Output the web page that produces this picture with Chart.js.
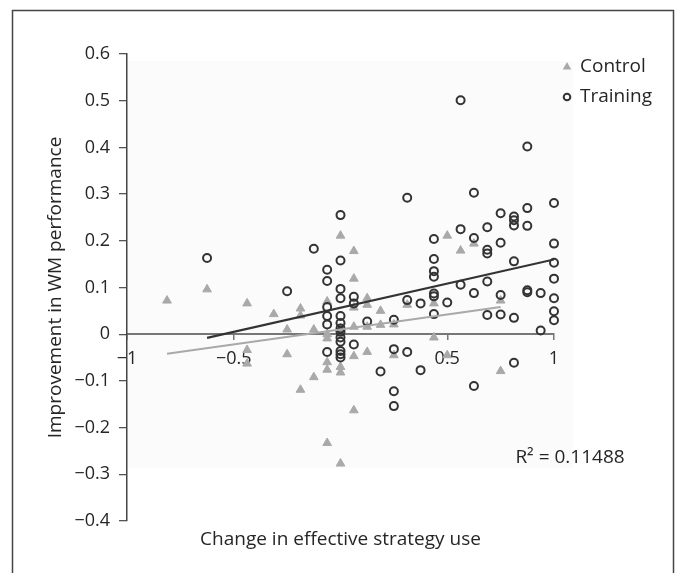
<!DOCTYPE html>
<html>
<head>
<meta charset="utf-8">
<script src="https://cdn.jsdelivr.net/npm/chart.js@4.4.1/dist/chart.umd.min.js"></script>
<style>
  html, body { margin: 0; padding: 0; background: #fff; }
  canvas { display: block; }
</style>
</head>
<body>
<canvas id="scatterChart" width="678" height="573"></canvas>
<script>
// 데이터: 통제군 (삼각형)
const controlX = [-0.8125, -0.625, -0.4375, -0.4375, -0.4375, -0.3125, -0.25, -0.25,
    -0.1875, -0.1875, -0.1875, -0.125, -0.125,
    -0.0625, -0.0625, -0.0625, -0.0625, -0.0625, -0.0625,
    0, 0, 0, 0, 0,
    0.0625, 0.0625, 0.0625, 0.0625, 0.0625, 0.0625,
    0.125, 0.125, 0.125, 0.125, 0.1875, 0.1875, 0.25, 0.25,
    0.3125, 0.4375, 0.4375, 0.5, 0.5, 0.5625, 0.625, 0.75, 0.75];
const controlY = [0.072, 0.096, 0.066, -0.034, -0.063, 0.043, 0.010, -0.043,
    0.055, 0.040, -0.119, 0.010, -0.092,
    0.070, 0.000, -0.009, -0.060, -0.076, -0.233,
    0.211, 0.012, -0.070, -0.082, -0.277,
    0.178, 0.119, 0.057, 0.016, -0.047, -0.163,
    0.077, 0.063, 0.016, -0.038, 0.050, 0.020, 0.021, -0.045,
    0.063, 0.066, -0.007, 0.211, -0.045, 0.179, 0.194, 0.072, -0.079];

// 데이터: 훈련군 (원)
const trainingX = [-0.625, -0.25, -0.125,
    -0.0625, -0.0625, -0.0625, -0.0625, -0.0625, -0.0625,
    0, 0, 0, 0, 0, 0, 0, 0, 0, 0, 0, 0, 0,
    0.0625, 0.0625, 0.0625, 0.125, 0.1875,
    0.25, 0.25, 0.25, 0.25, 0.3125, 0.3125, 0.3125, 0.375, 0.375,
    0.4375, 0.4375, 0.4375, 0.4375, 0.4375, 0.4375, 0.4375, 0.5,
    0.5625, 0.5625, 0.5625, 0.625, 0.625, 0.625, 0.625,
    0.6875, 0.6875, 0.6875, 0.6875, 0.6875, 0.75, 0.75, 0.75, 0.75,
    0.8125, 0.8125, 0.8125, 0.8125, 0.8125, 0.8125,
    0.875, 0.875, 0.875, 0.875, 0.875, 0.9375, 0.9375,
    1, 1, 1, 1, 1, 1, 1];
const trainingY = [0.163, 0.092, 0.183,
    0.138, 0.114, 0.058, 0.039, 0.021, -0.038,
    0.255, 0.158, 0.097, 0.077, 0.039, 0.024, 0.012, 0.005, -0.007, -0.016, -0.036, -0.043, -0.050,
    0.080, 0.066, -0.022, 0.027, -0.080,
    0.031, -0.032, -0.122, -0.154, 0.292, 0.073, -0.038, 0.066, -0.077,
    0.204, 0.161, 0.135, 0.123, 0.087, 0.081, 0.043, 0.068,
    0.501, 0.225, 0.106, 0.303, 0.206, 0.088, -0.111,
    0.229, 0.181, 0.173, 0.113, 0.041, 0.259, 0.196, 0.084, 0.042,
    0.252, 0.244, 0.233, 0.156, 0.035, -0.061,
    0.402, 0.270, 0.232, 0.094, 0.090, 0.088, 0.008,
    0.281, 0.194, 0.153, 0.119, 0.077, 0.049, 0.030];

// 회귀선 끝점
const trainingFitX = [-0.625, 1];
const trainingFitY = [-0.008, 0.160];
const controlFitX = [-0.8125, 0.75];
const controlFitY = [-0.042, 0.058];

// 축 눈금
const xTicks = [-1, -0.5, 0.5, 1];
const yMin = -0.4;
const yMax = 0.6;

const legendLabels = ['Control', 'Training'];
const xTitle = 'Change in effective strategy use';
const yTitle = 'Improvement in WM performance';
const r2Text = 'R\u00B2 = 0.11488';

const TEXT = '#262626';
const DARK = '#333333';
const LIGHT = '#a9a9a9';

const toPoints = (xs, ys) => xs.map((x, i) => ({ x: x, y: ys[i] }));
const minus = s => s.replace('-', '\u2212');

Chart.defaults.font.family = "'Open Sans', sans-serif";
Chart.defaults.font.size = 18;
Chart.defaults.color = TEXT;

// 배경, 테두리, 범례, 텍스트
const decorPlugin = {
    id: 'decor',
    beforeDraw(chart) {
        const { ctx, chartArea: a } = chart;
        ctx.save();
        ctx.fillStyle = '#ffffff';
        ctx.fillRect(0, 0, chart.width, chart.height);
        ctx.fillStyle = '#fbfbfb';
        ctx.fillRect(a.left, a.top + 7, a.right - a.left + 19, a.bottom - a.top - 60);
        ctx.strokeStyle = '#444';
        ctx.lineWidth = 1.5;
        ctx.strokeRect(12.5, 10.5, 661, 620);
        ctx.restore();
    },
    afterDraw(chart) {
        const { ctx, chartArea: a } = chart;
        ctx.save();
        ctx.font = "19px 'Open Sans', sans-serif";
        ctx.fillStyle = TEXT;
        ctx.textBaseline = 'middle';

        // x축 제목
        ctx.textAlign = 'center';
        ctx.fillText(xTitle, (a.left + a.right) / 2, a.bottom + 19);

        // R²
        ctx.fillText(r2Text, a.right + 16, a.bottom - 63);

        // 범례
        const lx = a.right + 13;
        ctx.textAlign = 'left';
        ctx.fillStyle = LIGHT;
        ctx.beginPath();
        ctx.moveTo(lx, 67 - 5);
        ctx.lineTo(lx + 4.3, 67 + 2.5);
        ctx.lineTo(lx - 4.3, 67 + 2.5);
        ctx.closePath();
        ctx.fill();
        ctx.strokeStyle = DARK;
        ctx.lineWidth = 2;
        ctx.beginPath();
        ctx.arc(lx, 97, 3.3, 0, Math.PI * 2);
        ctx.stroke();
        ctx.fillStyle = TEXT;
        ctx.fillText(legendLabels[0], lx + 13, 67);
        ctx.fillText(legendLabels[1], lx + 13, 97);
        ctx.restore();
    }
};

const chart = new Chart(document.getElementById('scatterChart'), {
    type: 'scatter',
    data: {
        datasets: [
            {
                type: 'line',
                label: 'Training fit',
                data: toPoints(trainingFitX, trainingFitY),
                borderColor: DARK,
                borderWidth: 2.2,
                pointRadius: 0,
                fill: false,
                order: 0
            },
            {
                type: 'line',
                label: 'Control fit',
                data: toPoints(controlFitX, controlFitY),
                borderColor: LIGHT,
                borderWidth: 2,
                pointRadius: 0,
                fill: false,
                order: 1
            },
            {
                label: legendLabels[1],
                data: toPoints(trainingX, trainingY),
                pointStyle: 'circle',
                pointRadius: 4,
                borderColor: DARK,
                borderWidth: 2,
                backgroundColor: 'rgba(0,0,0,0)',
                clip: false,
                order: 2
            },
            {
                label: legendLabels[0],
                data: toPoints(controlX, controlY),
                pointStyle: 'triangle',
                pointRadius: 5,
                borderColor: LIGHT,
                borderWidth: 1,
                backgroundColor: LIGHT,
                clip: false,
                order: 3
            }
        ]
    },
    options: {
        responsive: false,
        animation: false,
        events: [],
        layout: {
            padding: { left: 20, right: 124, top: 54, bottom: 52 }
        },
        plugins: {
            legend: { display: false },
            tooltip: { enabled: false }
        },
        scales: {
            x: {
                type: 'linear',
                min: -1,
                max: 1,
                position: { y: 0 },
                afterFit: s => { s.height = 0; },
                afterBuildTicks: s => { s.ticks = xTicks.map(v => ({ value: v })); },
                grid: {
                    drawOnChartArea: false,
                    drawTicks: true,
                    tickLength: 5,
                    color: '#777',
                    lineWidth: 1.5
                },
                border: { color: '#777', width: 2 },
                ticks: {
                    padding: 9,
                    maxRotation: 0,
                    autoSkip: false,
                    color: TEXT,
                    callback: v => minus(String(v))
                }
            },
            y: {
                type: 'linear',
                min: yMin,
                max: yMax,
                position: 'left',
                afterFit: s => { s.width = 107; },
                grid: {
                    drawOnChartArea: false,
                    drawTicks: true,
                    tickLength: 8,
                    color: '#555',
                    lineWidth: 1.3
                },
                border: { color: '#444', width: 1.5 },
                ticks: {
                    stepSize: 0.1,
                    padding: 9,
                    color: TEXT,
                    callback: v => Math.abs(v) < 1e-9 ? '0' : minus(v.toFixed(1))
                },
                title: {
                    display: true,
                    text: yTitle,
                    color: TEXT,
                    font: { size: 19 },
                    padding: { top: 24, bottom: 0 }
                }
            }
        }
    },
    plugins: [decorPlugin]
});
</script>
</body>
</html>
